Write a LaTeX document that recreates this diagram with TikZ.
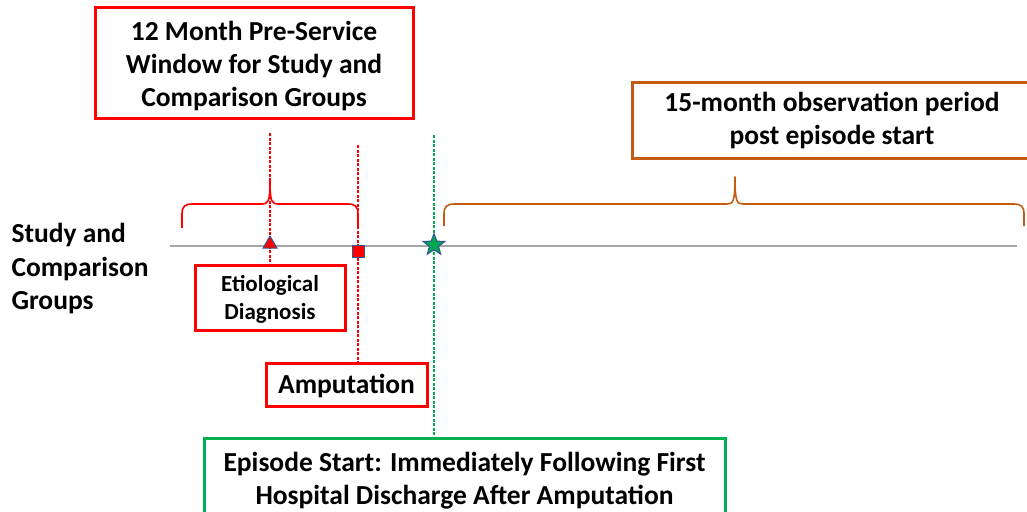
\documentclass[tikz,border=0pt]{standalone}
\usepackage{fontspec}
\setmainfont{Carlito}
\usetikzlibrary{shapes.geometric}

\definecolor{winred}{RGB}{255,0,0}
\definecolor{obsorange}{RGB}{197,90,17}
\definecolor{epigreen}{RGB}{0,176,80}
\definecolor{stargreen}{RGB}{0,166,81}
\definecolor{markblue}{RGB}{47,85,151}
\definecolor{linegray}{RGB}{166,166,166}

\begin{document}
\begin{tikzpicture}[x=1pt,y=-1pt,
  box/.style={draw,line width=3pt,fill=white,align=center,inner sep=0pt,
    font=\bfseries\fontsize{27.5}{33}\selectfont},
  guide/.style={line width=1.3pt,dash pattern=on 3pt off 1.5pt},
  brace/.style={line width=1.6pt,line join=round},
  marker/.style={draw=markblue,line width=1pt,inner sep=0pt}
]
  \useasboundingbox (0,0) rectangle (1027,511);
  \clip (0,0) rectangle (1027,511);

  % text boxes
  \node[box,draw=winred,minimum width=318pt,minimum height=110pt] (window) at (254,63)
    {\rule{0pt}{25pt}12 Month Pre-Service\\Window for Study and\\Comparison Groups};
  \node[box,draw=obsorange,minimum width=400pt,minimum height=76pt] (observe) at (832,120)
    {15-month observation period\\post episode start};
  \node[box,draw=winred,minimum width=150pt,minimum height=65pt,
    font=\bfseries\fontsize{23}{27.5}\selectfont] (etio) at (270,297.5)
    {\rule{0pt}{20pt}Etiological\\Diagnosis};
  \node[box,draw=winred,minimum width=161pt,minimum height=43pt] (amp) at (346.5,384.5)
    {\rule{0pt}{22pt}Amputation};
  \node[box,draw=epigreen,minimum width=521pt,minimum height=80pt] (episode) at (464.5,478)
    {\rule{0pt}{24pt}Episode Start: Immediately Following First\\Hospital Discharge After Amputation};
  \node[anchor=west,align=left,font=\bfseries\fontsize{27.5}{33.5}\selectfont] (groups) at (8,269)
    {Study and\\Comparison\\Groups};

  % braces
  \draw[brace,winred] (182,228) -- (182,214) .. controls (182,206) and (185,204) .. (193,204)
    -- (262,204) .. controls (268,204) and (270,202) .. (270,181)
    .. controls (270,202) and (272,204) .. (278,204) -- (347,204)
    .. controls (355,204) and (358,206) .. (358,214) -- (358,228);
  \draw[brace,obsorange] (444,226) -- (444,214) .. controls (444,206) and (447,204) .. (455,204)
    -- (727,204) .. controls (733,204) and (735,202) .. (735,177)
    .. controls (735,202) and (737,204) .. (743,204) -- (1013,204)
    .. controls (1021,204) and (1024,206) .. (1024,214) -- (1024,226);

  % guide lines
  \coordinate (diagtop) at (270,133);
  \coordinate (amptop) at (358,145);
  \coordinate (epitop) at (434,135);
  \draw[guide,winred] (diagtop) -- (etio.north);
  \draw[guide,winred] (amptop) -- (amptop |- amp.north);
  \draw[guide,epigreen] (epitop) -- (epitop |- episode.north);

  % timeline
  \coordinate (tstart) at (170,246);
  \coordinate (tend) at (1017,246);
  \draw[linegray,line width=1.3pt] (tstart) -- (tend);

  % markers
  \node[marker,regular polygon,regular polygon sides=3,fill=winred,minimum size=16pt] (diag) at (270,244) {};
  \node[marker,rectangle,fill=winred,minimum size=12pt] (ampmark) at (358,251) {};
  \node[marker,star,star points=5,star point ratio=2.4,fill=stargreen,minimum size=23pt] (startmark) at (434,245) {};
\end{tikzpicture}
\end{document}
